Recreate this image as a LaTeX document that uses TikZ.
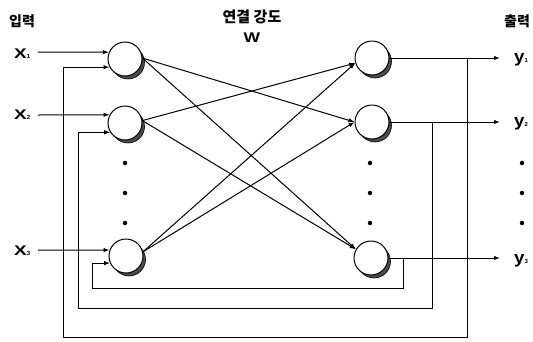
\documentclass[tikz,border=0pt]{standalone}
\usepackage{fontspec}
\setsansfont{Liberation Sans}
\newfontfamily\kr{Noto Sans CJK KR}
\usetikzlibrary{arrows.meta}
\begin{document}
\begin{tikzpicture}[x=1pt,y=-1pt,
  neuron/.style={circle,draw,line width=1pt,fill=white,minimum size=34pt,inner sep=0pt},
  shade/.style={circle,draw,line width=0.6pt,fill=black!70,minimum size=33pt,inner sep=0pt},
  arr/.style={line width=1pt,-{Latex[length=6pt,width=4.4pt]}},
  fb/.style={line width=0.8pt,-{Latex[length=6pt,width=4.4pt]}},
  dot/.style={circle,fill,inner sep=0pt,minimum size=4.5pt},
  krlab/.style={font=\kr\bfseries\fontsize{14}{14}\selectfont,inner sep=0pt},
  xlab/.style={font=\sffamily\bfseries,inner sep=0pt,anchor=base west},
  ylab/.style={font=\sffamily\bfseries,inner sep=0pt,anchor=base west}]
\useasboundingbox (0,0) rectangle (533,341);

% titles
\node[krlab] (tin) at (22,21) {입력};
\node[krlab,font=\kr\bfseries\fontsize{15}{15}\selectfont] (tw) at (252,17) {연결 강도};
\node[font=\sffamily\bfseries\fontsize{14}{14}\selectfont,inner sep=0pt] (tW) at (252,38) {\scalebox{1.25}[1]{W}};
\node[krlab] (tout) at (517,21) {출력};

% neuron shadows
\node[shade] (L1s) at (128,62.5) {};
\node[shade] (L2s) at (128,126.5) {};
\node[shade] (L3s) at (129,259.5) {};
\node[shade] (R1s) at (375,61.5) {};
\node[shade] (R2s) at (375,125.5) {};
\node[shade] (R3s) at (374,261.5) {};

% neurons
\node[neuron] (L1) at (125,59) {};
\node[neuron] (L2) at (125,123) {};
\node[neuron] (L3) at (126,256) {};
\node[neuron] (R1) at (372,58) {};
\node[neuron] (R2) at (372,122) {};
\node[neuron] (R3) at (371,258) {};

% dots
\foreach \y [count=\i] in {163,193,223}{
  \node[dot] (dl\i) at (125,\y) {};
  \node[dot] (dr\i) at (370,\y) {};
  \node[dot] (do\i) at (522,\y) {};
}

% inputs
\node[xlab] (x1) at (14,58.5) {\fontsize{14}{14}\selectfont\scalebox{1.35}[1]{X}\fontsize{6}{6}\selectfont 1};
\node[xlab] (x2) at (14,119.5) {\fontsize{14}{14}\selectfont\scalebox{1.35}[1]{X}\fontsize{6}{6}\selectfont 2};
\node[xlab] (x3) at (14,255.5) {\fontsize{14}{14}\selectfont\scalebox{1.35}[1]{X}\fontsize{6}{6}\selectfont 3};
\coordinate (x1s) at (38,52);
\coordinate (x2s) at (38,115);
\coordinate (x3s) at (38,250);
\draw[arr] (x1s) -- (L1.157);
\draw[arr] (x2s) -- (L2.152);
\draw[arr] (x3s) -- (L3.160);

% weights
\draw[arr] (L1.3) -- (R2.180);
\draw[arr] (L1.3) -- (R3.150);
\draw[arr] (L2.8) -- (R1.197);
\draw[arr] (L2.8) -- (R3.150);
\draw[arr] (L3.14) -- (R1.197);
\draw[arr] (L3.14) -- (R2.180);

% outputs
\coordinate (o1) at (500,58);
\coordinate (o2) at (500,122);
\coordinate (o3) at (500,258);
\draw[arr] (R1.east) -- (o1);
\draw[arr] (R2.east) -- (o2);
\draw[arr] (R3.east) -- (o3);
\node[ylab] (y1) at (514,62) {\fontsize{17}{17}\selectfont\scalebox{1.1}[1]{y}\fontsize{6}{6}\selectfont 1};
\node[ylab] (y2) at (514,126) {\fontsize{17}{17}\selectfont\scalebox{1.1}[1]{y}\fontsize{6}{6}\selectfont 2};
\node[ylab] (y3) at (514,263) {\fontsize{17}{17}\selectfont\scalebox{1.1}[1]{y}\fontsize{6}{6}\selectfont 3};

% feedback loops
\coordinate (t1) at (467,58);
\coordinate (b1r) at (467,337);
\coordinate (b1l) at (63,337);
\coordinate (t2) at (432,122);
\coordinate (b2r) at (432,308);
\coordinate (b2l) at (78,308);
\coordinate (t3) at (403,258);
\coordinate (b3r) at (403,288);
\coordinate (b3l) at (92,288);
\draw[fb] (t1) -- (b1r) -- (b1l) |- (L1.208);
\draw[fb] (t2) -- (b2r) -- (b2l) |- (L2.212);
\draw[fb] (t3) -- (b3r) -- (b3l) |- (L3.204);
\end{tikzpicture}
\end{document}
